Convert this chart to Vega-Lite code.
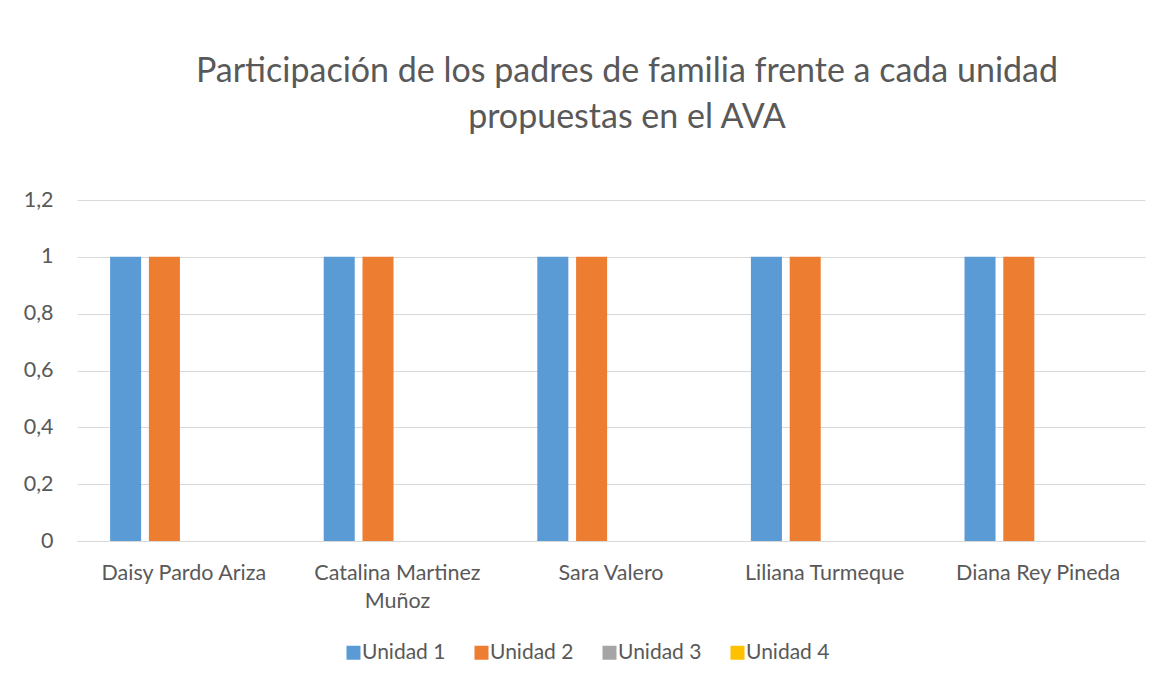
{
  "$schema": "https://vega.github.io/schema/vega-lite/v6.json",
  "width": 1068,
  "height": 341,
  "autosize": "none",
  "padding": {"left": 77, "top": 200, "right": 22, "bottom": 146},
  "background": "white",
  "title": {
    "text": ["Participación de los padres de familia frente a cada unidad", "propuestas en el AVA"],
    "font": "Lato",
    "fontSize": 34,
    "fontWeight": "normal",
    "color": "#595959",
    "lineHeight": 46,
    "anchor": "middle",
    "dx": 16,
    "offset": 54
  },
  "data": {
    "values": [
      {"nombre": "Daisy Pardo Ariza", "serie": "Unidad 1", "valor": 1},
      {"nombre": "Daisy Pardo Ariza", "serie": "Unidad 2", "valor": 1},
      {"nombre": "Daisy Pardo Ariza", "serie": "Unidad 3", "valor": 0},
      {"nombre": "Daisy Pardo Ariza", "serie": "Unidad 4", "valor": 0},
      {"nombre": "Catalina Martinez Muñoz", "serie": "Unidad 1", "valor": 1},
      {"nombre": "Catalina Martinez Muñoz", "serie": "Unidad 2", "valor": 1},
      {"nombre": "Catalina Martinez Muñoz", "serie": "Unidad 3", "valor": 0},
      {"nombre": "Catalina Martinez Muñoz", "serie": "Unidad 4", "valor": 0},
      {"nombre": "Sara Valero", "serie": "Unidad 1", "valor": 1},
      {"nombre": "Sara Valero", "serie": "Unidad 2", "valor": 1},
      {"nombre": "Sara Valero", "serie": "Unidad 3", "valor": 0},
      {"nombre": "Sara Valero", "serie": "Unidad 4", "valor": 0},
      {"nombre": "Liliana Turmeque", "serie": "Unidad 1", "valor": 1},
      {"nombre": "Liliana Turmeque", "serie": "Unidad 2", "valor": 1},
      {"nombre": "Liliana Turmeque", "serie": "Unidad 3", "valor": 0},
      {"nombre": "Liliana Turmeque", "serie": "Unidad 4", "valor": 0},
      {"nombre": "Diana Rey Pineda", "serie": "Unidad 1", "valor": 1},
      {"nombre": "Diana Rey Pineda", "serie": "Unidad 2", "valor": 1},
      {"nombre": "Diana Rey Pineda", "serie": "Unidad 3", "valor": 0},
      {"nombre": "Diana Rey Pineda", "serie": "Unidad 4", "valor": 0}
    ]
  },
  "mark": {"type": "bar"},
  "encoding": {
    "x": {
      "field": "nombre",
      "type": "nominal",
      "sort": null,
      "scale": {"paddingInner": 0.31, "paddingOuter": 0.155},
      "axis": {
        "title": null,
        "labelAngle": 0,
        "labelFont": "Lato",
        "labelFontSize": 21.5,
        "labelColor": "#595959",
        "labelPadding": 21,
        "labelLineHeight": 28,
        "labelLimit": 300,
        "labelExpr": "datum.label == 'Catalina Martinez Muñoz' ? ['Catalina Martinez', 'Muñoz'] : datum.label",
        "ticks": false,
        "domainColor": "#d9d9d9",
        "domainWidth": 1,
        "grid": false
      }
    },
    "xOffset": {
      "field": "serie",
      "type": "nominal",
      "scale": {"paddingInner": 0.2, "paddingOuter": 0}
    },
    "y": {
      "field": "valor",
      "type": "quantitative",
      "scale": {"domain": [0, 1.2], "nice": false},
      "axis": {
        "title": null,
        "values": [0, 0.2, 0.4, 0.6, 0.8, 1, 1.2],
        "labelExpr": "replace(format(datum.value, ''), '.', ',')",
        "labelFont": "Lato",
        "labelFontSize": 21.5,
        "labelColor": "#595959",
        "labelPadding": 24,
        "ticks": false,
        "domain": false,
        "grid": true,
        "gridColor": "#d9d9d9",
        "gridWidth": 1
      }
    },
    "color": {
      "field": "serie",
      "type": "nominal",
      "scale": {
        "domain": ["Unidad 1", "Unidad 2", "Unidad 3", "Unidad 4"],
        "range": ["#5B9BD5", "#ED7D31", "#A5A5A5", "#FFC000"]
      },
      "legend": {
        "title": null,
        "orient": "none",
        "legendX": 266,
        "legendY": 442,
        "direction": "horizontal",
        "symbolType": "square",
        "symbolSize": 196,
        "symbolStrokeWidth": 0,
        "labelFont": "Lato",
        "labelFontSize": 21,
        "labelColor": "#595959",
        "labelOffset": -2,
        "columnPadding": 25
      }
    }
  },
  "config": {
    "view": {"stroke": null}
  }
}
